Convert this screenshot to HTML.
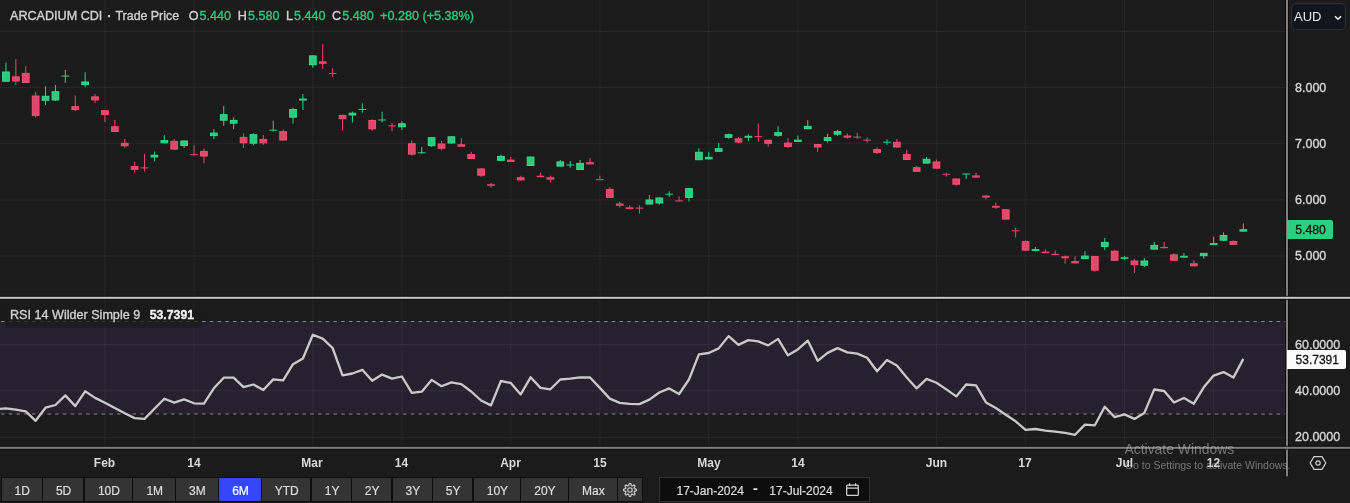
<!DOCTYPE html>
<html><head><meta charset="utf-8"><style>
*{margin:0;padding:0;box-sizing:border-box}
html,body{width:1350px;height:503px;overflow:hidden;background:#1b1b1b}
body{position:relative;font-family:"Liberation Sans",Arial,sans-serif;color:#d4d4d4}
.legend,.rsil,.pl{-webkit-text-stroke:0.35px currentColor}
.legend{position:absolute;left:10px;top:7.4px;font-size:12.6px;white-space:nowrap;color:#d0d0d0;line-height:18px}
.legend span{position:absolute;top:0}
.legend .v{color:#2fc77b}
.rsil{position:absolute;left:10px;top:305.8px;font-size:12.6px;white-space:nowrap;color:#d0d0d0;line-height:18px}
.rsil b{color:#f0f0f0;font-weight:bold;margin-left:9.5px;font-size:12.3px}
.pl{position:absolute;left:1295px;font-size:12.5px;color:#d6d6d6;line-height:16px;white-space:nowrap}
.tl{position:absolute;top:455px;width:60px;text-align:center;font-size:12px;font-weight:bold;color:#d8d8d8;line-height:16px}
.btn{position:absolute;top:477.7px;height:23.6px;background:#343434;color:#dcdcdc;font-size:12px;line-height:26.6px;text-align:center;padding-left:1px;-webkit-text-stroke:0.2px currentColor}
.btn.on{background:#3346f8;color:#fff}
.aud{position:absolute;left:1291px;top:3.2px;width:54.6px;height:27.3px;border:1px solid #2b303b;border-radius:5px;background:#12151d;color:#e6e6e6;font-size:13px;line-height:25px;padding-left:2px}
.lastp{position:absolute;left:1287px;top:219.8px;width:45.5px;height:19.2px;background:#2fcd80;border-radius:0 2px 2px 0;color:#111;font-size:12.5px;line-height:20.5px;padding-left:8.3px;font-size:12.2px;-webkit-text-stroke:0.3px currentColor}
.lastr{position:absolute;left:1287px;top:350px;width:58.8px;height:18.7px;background:#fbfbfb;border-radius:0 2px 2px 0;color:#111;line-height:20.6px;padding-left:8.6px;font-size:12px;-webkit-text-stroke:0.3px currentColor}
.date{position:absolute;left:659.3px;top:477.2px;width:210.6px;height:24.8px;background:#0d0d0d;border:1px solid #333;color:#dcdcdc;font-size:12px;line-height:26.3px}
.date span{-webkit-text-stroke:0.2px currentColor}
.wm1{position:absolute;left:1124.5px;top:440.5px;font-size:13.9px;color:rgba(205,205,205,0.5);white-space:nowrap;line-height:17px}
.wm2{position:absolute;left:1124.8px;top:458px;font-size:10.5px;color:rgba(205,205,205,0.5);white-space:nowrap;line-height:15px}
</style></head><body>
<svg width="1350" height="503" viewBox="0 0 1350 503" style="position:absolute;left:0;top:0"><rect x="0" y="321" width="1285.2" height="92.8" fill="#27212f"/><rect x="104.44" y="0" width="1" height="297.3" fill="rgba(215,225,255,0.062)"/><rect x="104.44" y="299" width="1" height="148.3" fill="rgba(215,225,255,0.062)"/><rect x="193.53" y="0" width="1" height="297.3" fill="rgba(215,225,255,0.062)"/><rect x="193.53" y="299" width="1" height="148.3" fill="rgba(215,225,255,0.062)"/><rect x="312.32" y="0" width="1" height="297.3" fill="rgba(215,225,255,0.062)"/><rect x="312.32" y="299" width="1" height="148.3" fill="rgba(215,225,255,0.062)"/><rect x="401.41" y="0" width="1" height="297.3" fill="rgba(215,225,255,0.062)"/><rect x="401.41" y="299" width="1" height="148.3" fill="rgba(215,225,255,0.062)"/><rect x="510.3" y="0" width="1" height="297.3" fill="rgba(215,225,255,0.062)"/><rect x="510.3" y="299" width="1" height="148.3" fill="rgba(215,225,255,0.062)"/><rect x="599.39" y="0" width="1" height="297.3" fill="rgba(215,225,255,0.062)"/><rect x="599.39" y="299" width="1" height="148.3" fill="rgba(215,225,255,0.062)"/><rect x="708.28" y="0" width="1" height="297.3" fill="rgba(215,225,255,0.062)"/><rect x="708.28" y="299" width="1" height="148.3" fill="rgba(215,225,255,0.062)"/><rect x="797.37" y="0" width="1" height="297.3" fill="rgba(215,225,255,0.062)"/><rect x="797.37" y="299" width="1" height="148.3" fill="rgba(215,225,255,0.062)"/><rect x="935.96" y="0" width="1" height="297.3" fill="rgba(215,225,255,0.062)"/><rect x="935.96" y="299" width="1" height="148.3" fill="rgba(215,225,255,0.062)"/><rect x="1025.05" y="0" width="1" height="297.3" fill="rgba(215,225,255,0.062)"/><rect x="1025.05" y="299" width="1" height="148.3" fill="rgba(215,225,255,0.062)"/><rect x="1124.04" y="0" width="1" height="297.3" fill="rgba(215,225,255,0.062)"/><rect x="1124.04" y="299" width="1" height="148.3" fill="rgba(215,225,255,0.062)"/><rect x="1213.13" y="0" width="1" height="297.3" fill="rgba(215,225,255,0.062)"/><rect x="1213.13" y="299" width="1" height="148.3" fill="rgba(215,225,255,0.062)"/><rect x="0" y="31" width="1286.3" height="1" fill="rgba(215,225,255,0.062)"/><rect x="0" y="87.1" width="1286.3" height="1" fill="rgba(215,225,255,0.062)"/><rect x="0" y="143.2" width="1286.3" height="1" fill="rgba(215,225,255,0.062)"/><rect x="0" y="199.4" width="1286.3" height="1" fill="rgba(215,225,255,0.062)"/><rect x="0" y="255.5" width="1286.3" height="1" fill="rgba(215,225,255,0.062)"/><rect x="0" y="343.9" width="1286.3" height="1" fill="rgba(215,225,255,0.062)"/><rect x="0" y="390.25" width="1286.3" height="1" fill="rgba(215,225,255,0.062)"/><rect x="0" y="436.8" width="1286.3" height="1" fill="rgba(215,225,255,0.062)"/><line x1="0" y1="321.5" x2="1286" y2="321.5" stroke="#8a8a8a" stroke-width="1" stroke-dasharray="3.5 4.231" stroke-dashoffset="-1.05"/><line x1="0" y1="414.0" x2="1286" y2="414.0" stroke="#8a8a8a" stroke-width="1" stroke-dasharray="3.5 4.231" stroke-dashoffset="-1.05"/><rect x="5" y="307.5" width="196.7" height="20.3" fill="#1b1b1c" fill-opacity="0.72"/><rect x="5.45" y="62.7" width="1" height="19.3" fill="#2fcf7f"/><rect x="2.6" y="72" width="6.7" height="9.2" fill="#2dca7d" stroke="#36dc8b" stroke-width="1"/><rect x="15.35" y="59" width="1" height="26" fill="#e9486b"/><rect x="12.5" y="76.9" width="6.7" height="4.1" fill="#e2466a" stroke="#fa4f72" stroke-width="1"/><rect x="25.25" y="66" width="1" height="17" fill="#e9486b"/><rect x="22.4" y="73.4" width="6.7" height="9.1" fill="#e2466a" stroke="#fa4f72" stroke-width="1"/><rect x="35.15" y="91.9" width="1" height="25.7" fill="#e9486b"/><rect x="32.3" y="96" width="6.7" height="19.4" fill="#e2466a" stroke="#fa4f72" stroke-width="1"/><rect x="45.05" y="86.3" width="1" height="18.8" fill="#2fcf7f"/><rect x="42.2" y="96.3" width="6.7" height="4" fill="#2dca7d" stroke="#36dc8b" stroke-width="1"/><rect x="54.95" y="85.1" width="1" height="15.9" fill="#2fcf7f"/><rect x="52.09" y="91.7" width="6.7" height="8.3" fill="#2dca7d" stroke="#36dc8b" stroke-width="1"/><rect x="64.84" y="69.9" width="1" height="13" fill="#2fcf7f"/><rect x="61.49" y="75.6" width="7.7" height="1" fill="#2fcf7f"/><rect x="74.74" y="95.5" width="1" height="15.5" fill="#e9486b"/><rect x="71.89" y="106.7" width="6.7" height="2.9" fill="#e2466a" stroke="#fa4f72" stroke-width="1"/><rect x="84.64" y="72.2" width="1" height="15" fill="#2fcf7f"/><rect x="81.79" y="82" width="6.7" height="2.6" fill="#2dca7d" stroke="#36dc8b" stroke-width="1"/><rect x="94.54" y="94" width="1" height="9" fill="#e9486b"/><rect x="91.69" y="96.9" width="6.7" height="3" fill="#e2466a" stroke="#fa4f72" stroke-width="1"/><rect x="104.44" y="110" width="1" height="12" fill="#e9486b"/><rect x="101.59" y="110.7" width="6.7" height="3.8" fill="#e2466a" stroke="#fa4f72" stroke-width="1"/><rect x="114.34" y="120" width="1" height="12" fill="#e9486b"/><rect x="111.49" y="126.8" width="6.7" height="4.7" fill="#e2466a" stroke="#fa4f72" stroke-width="1"/><rect x="124.24" y="139" width="1" height="9" fill="#e9486b"/><rect x="121.39" y="143.3" width="6.7" height="2.4" fill="#e2466a" stroke="#fa4f72" stroke-width="1"/><rect x="134.14" y="161.7" width="1" height="10.9" fill="#e9486b"/><rect x="131.29" y="166.5" width="6.7" height="2.8" fill="#e2466a" stroke="#fa4f72" stroke-width="1"/><rect x="144.04" y="153.7" width="1" height="18" fill="#e9486b"/><rect x="140.69" y="167.4" width="7.7" height="1" fill="#e9486b"/><rect x="153.93" y="151.5" width="1" height="9.8" fill="#2fcf7f"/><rect x="150.58" y="154.7" width="7.7" height="2.8" fill="#2fcf7f"/><rect x="163.83" y="135.2" width="1" height="8.1" fill="#2fcf7f"/><rect x="160.98" y="140.6" width="6.7" height="2.2" fill="#2dca7d" stroke="#36dc8b" stroke-width="1"/><rect x="173.73" y="139" width="1" height="10.6" fill="#e9486b"/><rect x="170.88" y="141.4" width="6.7" height="7.7" fill="#e2466a" stroke="#fa4f72" stroke-width="1"/><rect x="183.63" y="140.5" width="1" height="7.5" fill="#2fcf7f"/><rect x="180.78" y="141" width="6.7" height="4.5" fill="#2dca7d" stroke="#36dc8b" stroke-width="1"/><rect x="193.53" y="145.3" width="1" height="10.2" fill="#e9486b"/><rect x="190.18" y="154.2" width="7.7" height="1" fill="#e9486b"/><rect x="203.43" y="148.5" width="1" height="14.9" fill="#e9486b"/><rect x="200.58" y="151.4" width="6.7" height="4.6" fill="#e2466a" stroke="#fa4f72" stroke-width="1"/><rect x="213.33" y="129" width="1" height="10" fill="#2fcf7f"/><rect x="210.48" y="133.1" width="6.7" height="2.5" fill="#2dca7d" stroke="#36dc8b" stroke-width="1"/><rect x="223.23" y="105.9" width="1" height="19.9" fill="#2fcf7f"/><rect x="220.38" y="114.7" width="6.7" height="5.5" fill="#2dca7d" stroke="#36dc8b" stroke-width="1"/><rect x="233.13" y="117.3" width="1" height="11.7" fill="#2fcf7f"/><rect x="230.28" y="120.4" width="6.7" height="2.8" fill="#2dca7d" stroke="#36dc8b" stroke-width="1"/><rect x="243.03" y="133.2" width="1" height="14.8" fill="#e9486b"/><rect x="240.18" y="137.4" width="6.7" height="5.4" fill="#e2466a" stroke="#fa4f72" stroke-width="1"/><rect x="252.92" y="133.2" width="1" height="12.1" fill="#2fcf7f"/><rect x="250.07" y="134.7" width="6.7" height="8.5" fill="#2dca7d" stroke="#36dc8b" stroke-width="1"/><rect x="262.82" y="135" width="1" height="9.8" fill="#e9486b"/><rect x="259.97" y="139.5" width="6.7" height="3.3" fill="#e2466a" stroke="#fa4f72" stroke-width="1"/><rect x="272.72" y="120.7" width="1" height="11" fill="#2fcf7f"/><rect x="269.37" y="129.7" width="7.7" height="1" fill="#2fcf7f"/><rect x="282.62" y="129.3" width="1" height="11.2" fill="#e9486b"/><rect x="279.77" y="131.7" width="6.7" height="8.3" fill="#e2466a" stroke="#fa4f72" stroke-width="1"/><rect x="292.52" y="107.6" width="1" height="16" fill="#2fcf7f"/><rect x="289.67" y="109.5" width="6.7" height="7.7" fill="#2dca7d" stroke="#36dc8b" stroke-width="1"/><rect x="302.42" y="94.1" width="1" height="15.9" fill="#2fcf7f"/><rect x="299.07" y="98.5" width="7.7" height="2.1" fill="#2fcf7f"/><rect x="312.32" y="55.3" width="1" height="12.5" fill="#2fcf7f"/><rect x="309.47" y="55.9" width="6.7" height="8.8" fill="#2dca7d" stroke="#36dc8b" stroke-width="1"/><rect x="322.22" y="44.2" width="1" height="24.7" fill="#e9486b"/><rect x="318.87" y="61.3" width="7.7" height="2.6" fill="#e9486b"/><rect x="332.12" y="68.3" width="1" height="8.9" fill="#e9486b"/><rect x="328.77" y="73" width="7.7" height="1" fill="#e9486b"/><rect x="342.02" y="114.9" width="1" height="15.9" fill="#e9486b"/><rect x="339.17" y="115.4" width="6.7" height="3.3" fill="#e2466a" stroke="#fa4f72" stroke-width="1"/><rect x="351.91" y="111.6" width="1" height="10.9" fill="#2fcf7f"/><rect x="348.56" y="112.7" width="7.7" height="2.8" fill="#2fcf7f"/><rect x="361.81" y="103.3" width="1" height="9.4" fill="#2fcf7f"/><rect x="358.46" y="108.9" width="7.7" height="1" fill="#2fcf7f"/><rect x="371.71" y="119.2" width="1" height="11.5" fill="#e9486b"/><rect x="368.86" y="120.5" width="6.7" height="8.3" fill="#e2466a" stroke="#fa4f72" stroke-width="1"/><rect x="381.61" y="111.6" width="1" height="10.8" fill="#2fcf7f"/><rect x="378.26" y="119.5" width="7.7" height="1" fill="#2fcf7f"/><rect x="391.51" y="122.9" width="1" height="8.4" fill="#e9486b"/><rect x="388.16" y="125.4" width="7.7" height="1" fill="#e9486b"/><rect x="401.41" y="121.1" width="1" height="9" fill="#2fcf7f"/><rect x="398.56" y="123.8" width="6.7" height="2.9" fill="#2dca7d" stroke="#36dc8b" stroke-width="1"/><rect x="411.31" y="140.3" width="1" height="15.5" fill="#e9486b"/><rect x="408.46" y="143.8" width="6.7" height="10.3" fill="#e2466a" stroke="#fa4f72" stroke-width="1"/><rect x="421.21" y="146.9" width="1" height="6.8" fill="#2fcf7f"/><rect x="417.86" y="152.3" width="7.7" height="1" fill="#2fcf7f"/><rect x="431.11" y="137.2" width="1" height="9.7" fill="#2fcf7f"/><rect x="428.26" y="137.7" width="6.7" height="8" fill="#2dca7d" stroke="#36dc8b" stroke-width="1"/><rect x="441.01" y="140.8" width="1" height="9.6" fill="#e9486b"/><rect x="438.16" y="144" width="6.7" height="4.2" fill="#e2466a" stroke="#fa4f72" stroke-width="1"/><rect x="450.9" y="136.3" width="1" height="7.2" fill="#2fcf7f"/><rect x="448.05" y="136.8" width="6.7" height="6.2" fill="#2dca7d" stroke="#36dc8b" stroke-width="1"/><rect x="460.8" y="138.1" width="1" height="8.7" fill="#e9486b"/><rect x="457.45" y="144.2" width="7.7" height="2.6" fill="#e9486b"/><rect x="470.7" y="151.8" width="1" height="7.2" fill="#e9486b"/><rect x="467.85" y="154.6" width="6.7" height="3.9" fill="#e2466a" stroke="#fa4f72" stroke-width="1"/><rect x="480.6" y="168" width="1" height="8.9" fill="#e9486b"/><rect x="477.75" y="169" width="6.7" height="6.2" fill="#e2466a" stroke="#fa4f72" stroke-width="1"/><rect x="490.5" y="182.8" width="1" height="5.1" fill="#e9486b"/><rect x="487.15" y="184.2" width="7.7" height="1.6" fill="#e9486b"/><rect x="500.4" y="154.8" width="1" height="6" fill="#2fcf7f"/><rect x="497.55" y="156.5" width="6.7" height="3.8" fill="#2dca7d" stroke="#36dc8b" stroke-width="1"/><rect x="510.3" y="157" width="1" height="5" fill="#e9486b"/><rect x="506.95" y="159.6" width="7.7" height="2.4" fill="#e9486b"/><rect x="520.2" y="175.7" width="1" height="4.7" fill="#e9486b"/><rect x="517.35" y="177.7" width="6.7" height="2.2" fill="#e2466a" stroke="#fa4f72" stroke-width="1"/><rect x="530.1" y="156.6" width="1" height="9.4" fill="#2fcf7f"/><rect x="527.25" y="157.1" width="6.7" height="8.4" fill="#2dca7d" stroke="#36dc8b" stroke-width="1"/><rect x="540" y="172.4" width="1" height="4.8" fill="#e9486b"/><rect x="536.65" y="175.7" width="7.7" height="1.5" fill="#e9486b"/><rect x="549.89" y="175.6" width="1" height="6.9" fill="#e9486b"/><rect x="546.54" y="177.1" width="7.7" height="2.6" fill="#e9486b"/><rect x="559.79" y="159.9" width="1" height="6.7" fill="#2fcf7f"/><rect x="556.94" y="161.9" width="6.7" height="4.2" fill="#2dca7d" stroke="#36dc8b" stroke-width="1"/><rect x="569.69" y="161.1" width="1" height="6.6" fill="#2fcf7f"/><rect x="566.34" y="164.5" width="7.7" height="1" fill="#2fcf7f"/><rect x="579.59" y="159.9" width="1" height="10.1" fill="#2fcf7f"/><rect x="576.74" y="163.4" width="6.7" height="6.1" fill="#2dca7d" stroke="#36dc8b" stroke-width="1"/><rect x="589.49" y="158.1" width="1" height="6.3" fill="#e9486b"/><rect x="586.14" y="162.1" width="7.7" height="2.3" fill="#e9486b"/><rect x="599.39" y="175.6" width="1" height="4.6" fill="#e9486b"/><rect x="596.04" y="179" width="7.7" height="1.2" fill="#e9486b"/><rect x="609.29" y="187" width="1" height="10.9" fill="#e9486b"/><rect x="606.44" y="189.5" width="6.7" height="7.9" fill="#e2466a" stroke="#fa4f72" stroke-width="1"/><rect x="619.19" y="201.6" width="1" height="6" fill="#e9486b"/><rect x="615.84" y="203.4" width="7.7" height="2.4" fill="#e9486b"/><rect x="629.09" y="205.4" width="1" height="3.7" fill="#e9486b"/><rect x="625.74" y="207.3" width="7.7" height="1.8" fill="#e9486b"/><rect x="638.99" y="205.2" width="1" height="8.3" fill="#e9486b"/><rect x="635.64" y="207.6" width="7.7" height="1" fill="#e9486b"/><rect x="648.88" y="195.1" width="1" height="9.4" fill="#2fcf7f"/><rect x="646.03" y="200" width="6.7" height="4" fill="#2dca7d" stroke="#36dc8b" stroke-width="1"/><rect x="658.78" y="197.5" width="1" height="7" fill="#2fcf7f"/><rect x="655.93" y="198" width="6.7" height="5" fill="#2dca7d" stroke="#36dc8b" stroke-width="1"/><rect x="668.68" y="191.2" width="1" height="5.9" fill="#2fcf7f"/><rect x="665.33" y="193.7" width="7.7" height="1" fill="#2fcf7f"/><rect x="678.58" y="196.5" width="1" height="4.9" fill="#e9486b"/><rect x="675.23" y="200.4" width="7.7" height="1" fill="#e9486b"/><rect x="688.48" y="188.2" width="1" height="13.3" fill="#2fcf7f"/><rect x="685.63" y="188.7" width="6.7" height="8.7" fill="#2dca7d" stroke="#36dc8b" stroke-width="1"/><rect x="698.38" y="148.2" width="1" height="12" fill="#2fcf7f"/><rect x="695.53" y="152.3" width="6.7" height="7.4" fill="#2dca7d" stroke="#36dc8b" stroke-width="1"/><rect x="708.28" y="151.8" width="1" height="7.6" fill="#2fcf7f"/><rect x="704.93" y="156.8" width="7.7" height="2.6" fill="#2fcf7f"/><rect x="718.18" y="142.9" width="1" height="8.9" fill="#2fcf7f"/><rect x="715.33" y="148.7" width="6.7" height="2.6" fill="#2dca7d" stroke="#36dc8b" stroke-width="1"/><rect x="728.08" y="133.6" width="1" height="5.1" fill="#2fcf7f"/><rect x="725.23" y="134.7" width="6.7" height="2.6" fill="#2dca7d" stroke="#36dc8b" stroke-width="1"/><rect x="737.98" y="137" width="1" height="6.4" fill="#e9486b"/><rect x="735.13" y="138.9" width="6.7" height="3.2" fill="#e2466a" stroke="#fa4f72" stroke-width="1"/><rect x="747.88" y="134.2" width="1" height="6.8" fill="#2fcf7f"/><rect x="744.52" y="135.8" width="7.7" height="2" fill="#2fcf7f"/><rect x="757.77" y="123.5" width="1" height="18.3" fill="#e9486b"/><rect x="754.42" y="136.1" width="7.7" height="1" fill="#e9486b"/><rect x="767.67" y="139.8" width="1" height="7" fill="#e9486b"/><rect x="764.82" y="140.3" width="6.7" height="3" fill="#e2466a" stroke="#fa4f72" stroke-width="1"/><rect x="777.57" y="126.2" width="1" height="10.8" fill="#2fcf7f"/><rect x="774.72" y="132.7" width="6.7" height="2.6" fill="#2dca7d" stroke="#36dc8b" stroke-width="1"/><rect x="787.47" y="138.2" width="1" height="9.8" fill="#e9486b"/><rect x="784.62" y="143.1" width="6.7" height="3.4" fill="#e2466a" stroke="#fa4f72" stroke-width="1"/><rect x="797.37" y="135.4" width="1" height="6.6" fill="#2fcf7f"/><rect x="794.02" y="139.6" width="7.7" height="2.4" fill="#2fcf7f"/><rect x="807.27" y="119.9" width="1" height="9.3" fill="#2fcf7f"/><rect x="804.42" y="126.4" width="6.7" height="2.3" fill="#2dca7d" stroke="#36dc8b" stroke-width="1"/><rect x="817.17" y="144" width="1" height="7.8" fill="#e9486b"/><rect x="814.32" y="144.5" width="6.7" height="2.5" fill="#e2466a" stroke="#fa4f72" stroke-width="1"/><rect x="827.07" y="133.9" width="1" height="8.8" fill="#2fcf7f"/><rect x="824.22" y="137.6" width="6.7" height="2.9" fill="#2dca7d" stroke="#36dc8b" stroke-width="1"/><rect x="836.97" y="129.9" width="1" height="6" fill="#2fcf7f"/><rect x="834.12" y="131.6" width="6.7" height="2.6" fill="#2dca7d" stroke="#36dc8b" stroke-width="1"/><rect x="846.87" y="133.5" width="1" height="5.1" fill="#e9486b"/><rect x="843.51" y="135.5" width="7.7" height="2.2" fill="#e9486b"/><rect x="856.76" y="132.7" width="1" height="6.4" fill="#e9486b"/><rect x="853.41" y="136.6" width="7.7" height="1" fill="#e9486b"/><rect x="866.66" y="137.4" width="1" height="5.3" fill="#e9486b"/><rect x="863.31" y="139.6" width="7.7" height="1" fill="#e9486b"/><rect x="876.56" y="147.5" width="1" height="6.3" fill="#e9486b"/><rect x="873.71" y="149.5" width="6.7" height="2.9" fill="#e2466a" stroke="#fa4f72" stroke-width="1"/><rect x="886.46" y="139.5" width="1" height="5.3" fill="#2fcf7f"/><rect x="883.11" y="141.7" width="7.7" height="1" fill="#2fcf7f"/><rect x="896.36" y="138.9" width="1" height="8.6" fill="#e9486b"/><rect x="893.51" y="142.3" width="6.7" height="4.7" fill="#e2466a" stroke="#fa4f72" stroke-width="1"/><rect x="906.26" y="149.7" width="1" height="10.3" fill="#e9486b"/><rect x="903.41" y="154.4" width="6.7" height="5.1" fill="#e2466a" stroke="#fa4f72" stroke-width="1"/><rect x="916.16" y="166" width="1" height="5.8" fill="#e9486b"/><rect x="913.31" y="167.7" width="6.7" height="3.6" fill="#e2466a" stroke="#fa4f72" stroke-width="1"/><rect x="926.06" y="157" width="1" height="6.6" fill="#2fcf7f"/><rect x="923.21" y="159.3" width="6.7" height="3.8" fill="#2dca7d" stroke="#36dc8b" stroke-width="1"/><rect x="935.96" y="159.7" width="1" height="8.9" fill="#e9486b"/><rect x="933.11" y="162" width="6.7" height="6.1" fill="#e2466a" stroke="#fa4f72" stroke-width="1"/><rect x="945.86" y="172.7" width="1" height="4" fill="#e9486b"/><rect x="942.5" y="173.8" width="7.7" height="1" fill="#e9486b"/><rect x="955.75" y="178.5" width="1" height="7.1" fill="#e9486b"/><rect x="952.9" y="179" width="6.7" height="5.2" fill="#e2466a" stroke="#fa4f72" stroke-width="1"/><rect x="965.65" y="173.5" width="1" height="5.5" fill="#2fcf7f"/><rect x="962.3" y="173.5" width="7.7" height="1" fill="#2fcf7f"/><rect x="975.55" y="172.7" width="1" height="4.9" fill="#e9486b"/><rect x="972.2" y="175.4" width="7.7" height="2.2" fill="#e9486b"/><rect x="985.45" y="195.5" width="1" height="3.9" fill="#e9486b"/><rect x="982.1" y="195.5" width="7.7" height="2.1" fill="#e9486b"/><rect x="995.35" y="202.9" width="1" height="6.1" fill="#e9486b"/><rect x="992" y="205.8" width="7.7" height="1.9" fill="#e9486b"/><rect x="1005.25" y="209.3" width="1" height="10.3" fill="#e9486b"/><rect x="1002.4" y="209.8" width="6.7" height="9.3" fill="#e2466a" stroke="#fa4f72" stroke-width="1"/><rect x="1015.15" y="227.6" width="1" height="10" fill="#e9486b"/><rect x="1011.8" y="230.3" width="7.7" height="1" fill="#e9486b"/><rect x="1025.05" y="240.3" width="1" height="10.3" fill="#e9486b"/><rect x="1022.2" y="241.6" width="6.7" height="8.5" fill="#e2466a" stroke="#fa4f72" stroke-width="1"/><rect x="1034.95" y="247.1" width="1" height="4.3" fill="#2fcf7f"/><rect x="1031.6" y="249" width="7.7" height="2" fill="#2fcf7f"/><rect x="1044.85" y="249.5" width="1" height="3.7" fill="#e9486b"/><rect x="1041.5" y="251.6" width="7.7" height="1.6" fill="#e9486b"/><rect x="1054.74" y="250.6" width="1" height="4.5" fill="#e9486b"/><rect x="1051.39" y="253.8" width="7.7" height="1.3" fill="#e9486b"/><rect x="1064.64" y="255.4" width="1" height="8.3" fill="#e9486b"/><rect x="1061.29" y="256.2" width="7.7" height="2.1" fill="#e9486b"/><rect x="1074.54" y="256.2" width="1" height="7.2" fill="#e9486b"/><rect x="1071.19" y="261" width="7.7" height="2.4" fill="#e9486b"/><rect x="1084.44" y="251.2" width="1" height="7.9" fill="#2fcf7f"/><rect x="1081.59" y="256.1" width="6.7" height="2.5" fill="#2dca7d" stroke="#36dc8b" stroke-width="1"/><rect x="1094.34" y="256.1" width="1" height="15.7" fill="#e9486b"/><rect x="1091.49" y="256.6" width="6.7" height="13.6" fill="#e2466a" stroke="#fa4f72" stroke-width="1"/><rect x="1104.24" y="237.9" width="1" height="12.2" fill="#2fcf7f"/><rect x="1101.39" y="242.4" width="6.7" height="4" fill="#2dca7d" stroke="#36dc8b" stroke-width="1"/><rect x="1114.14" y="249.9" width="1" height="10.9" fill="#e9486b"/><rect x="1111.29" y="251.2" width="6.7" height="9.1" fill="#e2466a" stroke="#fa4f72" stroke-width="1"/><rect x="1124.04" y="256.1" width="1" height="3.7" fill="#2fcf7f"/><rect x="1120.69" y="257.2" width="7.7" height="1.7" fill="#2fcf7f"/><rect x="1133.94" y="258.7" width="1" height="14.2" fill="#e9486b"/><rect x="1131.09" y="261" width="6.7" height="3.7" fill="#e2466a" stroke="#fa4f72" stroke-width="1"/><rect x="1143.84" y="257.8" width="1" height="9.3" fill="#2fcf7f"/><rect x="1140.99" y="261" width="6.7" height="4.2" fill="#2dca7d" stroke="#36dc8b" stroke-width="1"/><rect x="1153.73" y="241.9" width="1" height="7.7" fill="#2fcf7f"/><rect x="1150.88" y="245.4" width="6.7" height="3.7" fill="#2dca7d" stroke="#36dc8b" stroke-width="1"/><rect x="1163.63" y="241.9" width="1" height="6.6" fill="#e9486b"/><rect x="1160.28" y="246.9" width="7.7" height="1.3" fill="#e9486b"/><rect x="1173.53" y="253.4" width="1" height="7.3" fill="#e9486b"/><rect x="1170.68" y="254.9" width="6.7" height="5.3" fill="#e2466a" stroke="#fa4f72" stroke-width="1"/><rect x="1183.43" y="252.9" width="1" height="4.8" fill="#2fcf7f"/><rect x="1180.08" y="255.8" width="7.7" height="1.9" fill="#2fcf7f"/><rect x="1193.33" y="260.1" width="1" height="6.2" fill="#e9486b"/><rect x="1190.48" y="263.8" width="6.7" height="2" fill="#e2466a" stroke="#fa4f72" stroke-width="1"/><rect x="1203.23" y="252.9" width="1" height="5.7" fill="#2fcf7f"/><rect x="1200.38" y="253.4" width="6.7" height="2.3" fill="#2dca7d" stroke="#36dc8b" stroke-width="1"/><rect x="1213.13" y="236.7" width="1" height="8.4" fill="#2fcf7f"/><rect x="1209.78" y="243" width="7.7" height="2.1" fill="#2fcf7f"/><rect x="1223.03" y="232.3" width="1" height="8.4" fill="#2fcf7f"/><rect x="1220.18" y="235.5" width="6.7" height="4.7" fill="#2dca7d" stroke="#36dc8b" stroke-width="1"/><rect x="1232.93" y="240.3" width="1" height="4.5" fill="#e9486b"/><rect x="1230.08" y="241.5" width="6.7" height="2.8" fill="#e2466a" stroke="#fa4f72" stroke-width="1"/><rect x="1242.83" y="223.4" width="1" height="8.3" fill="#2fcf7f"/><rect x="1239.48" y="229.1" width="7.7" height="2.6" fill="#2fcf7f"/><path d="M0,408.8 L5.95,408.3 L15.85,409.6 L25.75,411.3 L35.65,420.8 L45.55,407.7 L55.45,405 L65.34,395.4 L75.24,406.1 L85.14,391.3 L95.04,397.9 L104.94,402.8 L114.84,408 L124.74,413.2 L134.64,418.1 L144.54,418.9 L154.43,408.7 L164.33,398.7 L174.23,402.6 L184.13,399.4 L194.03,403.3 L203.93,403.7 L213.83,388.3 L223.73,377.7 L233.63,377.7 L243.53,387.2 L253.42,384.5 L263.32,390 L273.22,379.4 L283.12,380.4 L293.02,364.2 L302.92,358.5 L312.82,334.7 L322.72,338.6 L332.62,348 L342.52,375.4 L352.41,373.5 L362.31,369.8 L372.21,380.7 L382.11,374.6 L392.01,378.6 L401.91,376.5 L411.81,392.8 L421.71,391.7 L431.61,379.9 L441.51,386.2 L451.4,382.4 L461.3,384.1 L471.2,391.5 L481.1,400.5 L491,405.4 L500.9,381 L510.8,383 L520.7,394.4 L530.6,377.3 L540.5,387.9 L550.39,389.3 L560.29,379.5 L570.19,378.6 L580.09,377.3 L589.99,377.5 L599.89,387.9 L609.79,398.6 L619.69,402.9 L629.59,403.8 L639.49,404.1 L649.38,399.6 L659.28,392.5 L669.18,388.4 L679.08,394 L688.98,379.5 L698.88,354.3 L708.78,353 L718.68,348.4 L728.58,336.1 L738.48,344.9 L748.38,340.1 L758.27,341.4 L768.17,345.4 L778.07,338.9 L787.97,355.3 L797.87,349.4 L807.77,340.6 L817.67,360.8 L827.57,352.9 L837.47,348.1 L847.37,352.4 L857.26,353.6 L867.16,357.7 L877.06,371.2 L886.96,360.1 L896.86,365.6 L906.76,377.5 L916.66,388.4 L926.56,378.9 L936.46,382.7 L946.36,389.4 L956.25,396.4 L966.15,384.5 L976.05,385.3 L985.95,402.4 L995.85,408 L1005.75,414.8 L1015.65,421.3 L1025.55,429.8 L1035.45,429 L1045.35,430.6 L1055.24,431.6 L1065.14,432.8 L1075.04,434.8 L1084.94,424.6 L1094.84,425.3 L1104.74,406.8 L1114.64,417.1 L1124.54,414.4 L1134.44,418.9 L1144.34,412.9 L1154.23,389.5 L1164.13,391 L1174.03,402.5 L1183.93,398 L1193.83,403.7 L1203.73,387.3 L1213.63,375.6 L1223.53,372.1 L1233.43,377.6 L1243.33,358.9" fill="none" stroke="#c9c9c9" stroke-width="2.3" stroke-linejoin="round"/><rect x="1285" y="0" width="1" height="476" fill="#0a0a0a" fill-opacity="0.8"/><rect x="1288" y="0" width="1" height="476" fill="#0a0a0a" fill-opacity="0.8"/><rect x="1286" y="0" width="2" height="476.3" fill="#7e7e7e"/><rect x="0" y="295.8" width="1350" height="1" fill="#0a0a0a"/><rect x="0" y="298.8" width="1350" height="1" fill="#0a0a0a"/><rect x="0" y="296.8" width="1350" height="2" fill="#c6c6c6"/><rect x="0" y="445.8" width="1350" height="1" fill="#0a0a0a"/><rect x="0" y="448.8" width="1350" height="1" fill="#0a0a0a" fill-opacity="0.7"/><rect x="0" y="446.8" width="1350" height="2" fill="#7e7e7e"/></svg>
<div class="legend"><span style="left:0">ARCADIUM CDI</span><span style="left:97.2px;font-weight:bold">·</span><span style="left:105.5px;font-size:12.4px">Trade Price</span><span style="left:178.8px">O</span><span class="v" style="left:189.4px">5.440</span><span style="left:227.7px">H</span><span class="v" style="left:238px">5.580</span><span style="left:276px">L</span><span class="v" style="left:284px">5.440</span><span style="left:321.9px">C</span><span class="v" style="left:332.2px">5.480</span><span class="v" style="left:370.1px">+0.280 (+5.38%)</span></div>
<div class="rsil">RSI 14 Wilder Simple 9<b>53.7391</b></div>
<div class="pl" style="top:79.9px">8.000</div><div class="pl" style="top:136.03px">7.000</div><div class="pl" style="top:192.16px">6.000</div><div class="pl" style="top:248.3px">5.000</div><div class="pl" style="top:336.5px">60.0000</div><div class="pl" style="top:383px">40.0000</div><div class="pl" style="top:429.3px">20.0000</div>
<div class="lastp">5.480</div>
<div class="lastr">53.7391</div>
<div class="tl" style="left:74.5px">Feb</div><div class="tl" style="left:164px">14</div><div class="tl" style="left:282px">Mar</div><div class="tl" style="left:371.5px">14</div><div class="tl" style="left:480.5px">Apr</div><div class="tl" style="left:570px">15</div><div class="tl" style="left:679px">May</div><div class="tl" style="left:768px">14</div><div class="tl" style="left:906.5px">Jun</div><div class="tl" style="left:995px">17</div><div class="tl" style="left:1094.5px">Jul</div><div class="tl" style="left:1183.5px">12</div>
<div style="position:absolute;left:0.6px;top:476.7px;width:642.3px;height:25.6px;background:#0e0e0e"></div>
<div class="btn" style="left:1.6px;width:40.4px">1D</div><div class="btn" style="left:43.0px;width:40.2px">5D</div><div class="btn" style="left:85.0px;width:46.8px">10D</div><div class="btn" style="left:133.3px;width:41.9px">1M</div><div class="btn" style="left:176.2px;width:41.5px">3M</div><div class="btn on" style="left:218.9px;width:42.2px">6M</div><div class="btn" style="left:262.1px;width:48.1px">YTD</div><div class="btn" style="left:312.1px;width:39.0px">1Y</div><div class="btn" style="left:352.1px;width:39.0px">2Y</div><div class="btn" style="left:393.0px;width:38.9px">3Y</div><div class="btn" style="left:433.3px;width:38.8px">5Y</div><div class="btn" style="left:473.7px;width:46.4px">10Y</div><div class="btn" style="left:521.1px;width:46.7px">20Y</div><div class="btn" style="left:569.0px;width:47.7px">Max</div><div class="btn" style="left:618.1px;width:23.8px"><svg width="16" height="16" viewBox="0 0 16 16" style="position:absolute;left:4px;top:4.2px"><path d="M14.50,8.00 L14.48,8.25 L14.41,8.50 L14.25,8.74 L13.92,8.94 L13.39,9.07 L12.87,9.17 L12.53,9.28 L12.34,9.41 L12.23,9.56 L12.16,9.72 L12.10,9.89 L12.07,10.07 L12.10,10.30 L12.27,10.61 L12.57,11.06 L12.85,11.52 L12.95,11.90 L12.89,12.18 L12.76,12.40 L12.60,12.60 L12.40,12.76 L12.18,12.89 L11.90,12.95 L11.52,12.85 L11.06,12.57 L10.61,12.27 L10.30,12.10 L10.07,12.07 L9.89,12.10 L9.72,12.16 L9.56,12.23 L9.41,12.34 L9.28,12.53 L9.17,12.87 L9.07,13.39 L8.94,13.92 L8.74,14.25 L8.50,14.41 L8.25,14.48 L8.00,14.50 L7.75,14.48 L7.50,14.41 L7.26,14.25 L7.06,13.92 L6.93,13.39 L6.83,12.87 L6.72,12.53 L6.59,12.34 L6.44,12.23 L6.28,12.16 L6.11,12.10 L5.93,12.07 L5.70,12.10 L5.39,12.27 L4.94,12.57 L4.48,12.85 L4.10,12.95 L3.82,12.89 L3.60,12.76 L3.40,12.60 L3.24,12.40 L3.11,12.18 L3.05,11.90 L3.15,11.52 L3.43,11.06 L3.73,10.61 L3.90,10.30 L3.93,10.07 L3.90,9.89 L3.84,9.72 L3.77,9.56 L3.66,9.41 L3.47,9.28 L3.13,9.17 L2.61,9.07 L2.08,8.94 L1.75,8.74 L1.59,8.50 L1.52,8.25 L1.50,8.00 L1.52,7.75 L1.59,7.50 L1.75,7.26 L2.08,7.06 L2.61,6.93 L3.13,6.83 L3.47,6.72 L3.66,6.59 L3.77,6.44 L3.84,6.28 L3.90,6.11 L3.93,5.93 L3.90,5.70 L3.73,5.39 L3.43,4.94 L3.15,4.48 L3.05,4.10 L3.11,3.82 L3.24,3.60 L3.40,3.40 L3.60,3.24 L3.82,3.11 L4.10,3.05 L4.48,3.15 L4.94,3.43 L5.39,3.73 L5.70,3.90 L5.93,3.93 L6.11,3.90 L6.28,3.84 L6.44,3.77 L6.59,3.66 L6.72,3.47 L6.83,3.13 L6.93,2.61 L7.06,2.08 L7.26,1.75 L7.50,1.59 L7.75,1.52 L8.00,1.50 L8.25,1.52 L8.50,1.59 L8.74,1.75 L8.94,2.08 L9.07,2.61 L9.17,3.13 L9.28,3.47 L9.41,3.66 L9.56,3.77 L9.72,3.84 L9.89,3.90 L10.07,3.93 L10.30,3.90 L10.61,3.73 L11.06,3.43 L11.52,3.15 L11.90,3.05 L12.18,3.11 L12.40,3.24 L12.60,3.40 L12.76,3.60 L12.89,3.82 L12.95,4.10 L12.85,4.48 L12.57,4.94 L12.27,5.39 L12.10,5.70 L12.07,5.93 L12.10,6.11 L12.16,6.28 L12.23,6.44 L12.34,6.59 L12.53,6.72 L12.87,6.83 L13.39,6.93 L13.92,7.06 L14.25,7.26 L14.41,7.50 L14.48,7.75 L14.50,8.00Z" fill="none" stroke="#d6d6d6" stroke-width="1.15" stroke-linejoin="round"/><circle cx="8" cy="8" r="2.2" fill="none" stroke="#d6d6d6" stroke-width="1.1"/></svg></div>
<div class="date"><span style="position:absolute;left:16.2px">17-Jan-2024</span><span style="position:absolute;left:92.8px;top:-2.9px;font-size:14px;font-weight:bold">-</span><span style="position:absolute;left:109px">17-Jul-2024</span>
<svg width="14" height="14" viewBox="0 0 14 14" style="position:absolute;left:185.8px;top:5px;transform:scale(0.93);transform-origin:0 0"><rect x="0.75" y="2.25" width="12.5" height="11" rx="1" fill="none" stroke="#d4d4d4" stroke-width="1.3"/><line x1="0.75" y1="5.5" x2="13.25" y2="5.5" stroke="#d4d4d4" stroke-width="1.3"/><line x1="3.8" y1="0.3" x2="3.8" y2="3" stroke="#d4d4d4" stroke-width="1.3"/><line x1="10.2" y1="0.3" x2="10.2" y2="3" stroke="#d4d4d4" stroke-width="1.3"/></svg></div>
<div class="aud">AUD<svg width="8" height="6" viewBox="0 0 8 6" style="position:absolute;left:41.5px;top:10.5px"><path d="M1 1.2 L4 4.2 L7 1.2" fill="none" stroke="#f0f0f0" stroke-width="1.6"/></svg></div>
<svg width="20" height="20" viewBox="0 0 20 20" style="position:absolute;left:1308.3px;top:452.5px"><path d="M6 3.6 H14 L17.8 10 L14 16.4 H6 L2.2 10 Z" fill="none" stroke="#cfcfcf" stroke-width="1.2"/><circle cx="10" cy="10" r="2.2" fill="none" stroke="#cfcfcf" stroke-width="1.2"/></svg>
<div class="wm1">Activate Windows</div>
<div class="wm2">Go to Settings to activate Windows.</div>
</body></html>
